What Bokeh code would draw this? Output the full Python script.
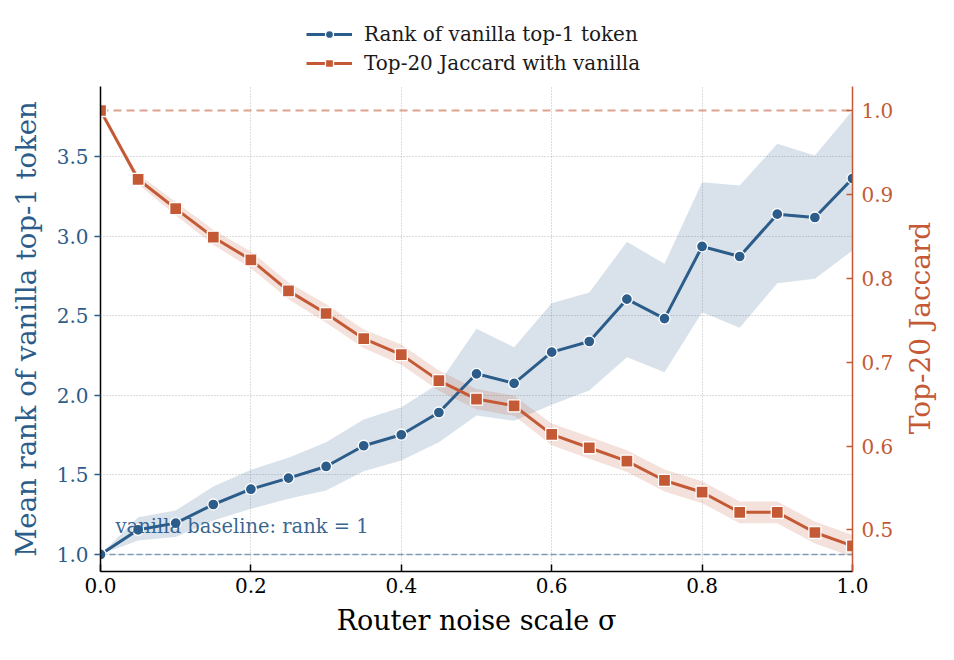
import math
from bokeh.plotting import figure
from bokeh.layouts import column, row
from bokeh.models import (Range1d, LinearAxis, Legend, LegendItem, Label, FixedTicker,
                          PrintfTickFormatter)
from bokeh.embed import file_html
from bokeh.resources import INLINE

sigma = [0.0, 0.05, 0.10, 0.15, 0.20, 0.25, 0.30, 0.35, 0.40, 0.45, 0.50,
         0.55, 0.60, 0.65, 0.70, 0.75, 0.80, 0.85, 0.90, 0.95, 1.00]
rank_mean = [1.0, 1.155, 1.197, 1.314, 1.41, 1.48, 1.553, 1.683, 1.752, 1.892, 2.135,
             2.075, 2.271, 2.338, 2.604, 2.482, 2.935, 2.872, 3.138, 3.117, 3.362]
rank_hi = [1.0, 1.234, 1.276, 1.427, 1.532, 1.607, 1.705, 1.848, 1.925, 2.074, 2.418,
           2.302, 2.579, 2.646, 2.964, 2.826, 3.339, 3.318, 3.58, 3.506, 3.789]
rank_lo = [1.0, 1.088, 1.109, 1.214, 1.287, 1.35, 1.402, 1.523, 1.59, 1.705, 1.873,
           1.84, 1.94, 2.03, 2.239, 2.145, 2.522, 2.424, 2.704, 2.732, 2.91]
jac_mean = [1.0, 0.918, 0.883, 0.849, 0.822, 0.785, 0.758, 0.728, 0.709, 0.678, 0.656,
            0.648, 0.614, 0.598, 0.582, 0.559, 0.545, 0.521, 0.521, 0.497, 0.481]
jac_hi = [1.0, 0.924, 0.891, 0.858, 0.832, 0.795, 0.769, 0.739, 0.721, 0.690, 0.668,
          0.660, 0.627, 0.611, 0.595, 0.572, 0.558, 0.534, 0.534, 0.510, 0.494]
jac_lo = [1.0, 0.912, 0.875, 0.840, 0.812, 0.775, 0.747, 0.717, 0.697, 0.666, 0.644,
          0.636, 0.601, 0.585, 0.569, 0.546, 0.532, 0.508, 0.508, 0.484, 0.468]
x_ticks = [0.0, 0.2, 0.4, 0.6, 0.8, 1.0]
rank_ticks = [1.0, 1.5, 2.0, 2.5, 3.0, 3.5]
jac_ticks = [0.5, 0.6, 0.7, 0.8, 0.9, 1.0]
series_names = ["Rank of vanilla top-1 token", "Top-20 Jaccard with vanilla"]

BLUE = "#2c5c8a"
ORANGE = "#c45a35"
FONT = "DejaVu Serif"
TICK_FS = "20px"

# ---------------- main plot ----------------
p = figure(width=902, height=554, output_backend="svg", toolbar_location=None,
           x_range=Range1d(0.0, 1.0), y_range=Range1d(0.893, 3.94),
           min_border_left=100, min_border_right=50, min_border_top=0, min_border_bottom=69)
p.extra_y_ranges = {"jac": Range1d(0.4505, 1.0286)}
p.outline_line_color = None
p.background_fill_color = "white"

p.xgrid.ticker = FixedTicker(ticks=x_ticks)
p.ygrid.ticker = FixedTicker(ticks=rank_ticks)
for g in (p.xgrid, p.ygrid):
    g.grid_line_color = "#b8b8b8"
    g.grid_line_dash = "1 2"
    g.grid_line_width = 1

p.varea(x=sigma, y1=rank_lo, y2=rank_hi, fill_color=BLUE, fill_alpha=0.18)
p.varea(x=sigma, y1=jac_lo, y2=jac_hi, fill_color=ORANGE, fill_alpha=0.18, y_range_name="jac")

p.line(x=[0.0, 1.0], y=[1.0, 1.0], line_color="#7d9aba", line_width=1.6, line_dash="6 3")
p.line(x=[0.0, 1.0], y=[1.0, 1.0], line_color="#dca48e", line_width=2.2, line_dash="8 5",
       y_range_name="jac")

lab = Label(x=0.02, y=1.176, text="vanilla baseline: rank = 1", text_color=BLUE,
            text_font=FONT, text_font_size="19.5px", text_baseline="middle", text_alpha=0.95)
p.add_layout(lab)

p.line(x=sigma, y=rank_mean, line_color=BLUE, line_width=3)
p.scatter(x=sigma, y=rank_mean, marker="circle", size=11, fill_color=BLUE,
          line_color="white", line_width=1.3)
p.line(x=sigma, y=jac_mean, line_color=ORANGE, line_width=3, y_range_name="jac")
p.scatter(x=sigma, y=jac_mean, marker="square", size=12, fill_color=ORANGE,
          line_color="white", line_width=1.3, y_range_name="jac")

xa = p.xaxis[0]
xa.ticker = FixedTicker(ticks=x_ticks)
xa.formatter = PrintfTickFormatter(format="%.1f")
xa.axis_label = "Router noise scale σ"
xa.axis_label_text_font = FONT
xa.axis_label_text_font_style = "normal"
xa.axis_label_text_font_size = "27px"
xa.axis_label_text_color = "black"
xa.major_label_text_font = FONT
xa.major_label_text_font_size = TICK_FS
xa.major_label_text_color = "black"
xa.major_label_standoff = 6
xa.axis_line_color = "black"
xa.axis_line_width = 1.5
xa.major_tick_in = 7
xa.major_tick_out = 0
xa.major_tick_line_color = "black"
xa.major_tick_line_width = 1.5
xa.minor_tick_line_color = None
xa.axis_label_standoff = 9

ya = p.yaxis[0]
ya.ticker = FixedTicker(ticks=rank_ticks)
ya.formatter = PrintfTickFormatter(format="%.1f")
ya.axis_label = "Mean rank of vanilla top-1 token"
ya.axis_label_text_font = FONT
ya.axis_label_text_font_style = "normal"
ya.axis_label_text_font_size = "27.5px"
ya.axis_label_text_color = BLUE
ya.major_label_text_font = FONT
ya.major_label_text_font_size = TICK_FS
ya.major_label_text_color = BLUE
ya.major_label_standoff = 6
ya.axis_line_color = "black"
ya.axis_line_width = 1.5
ya.major_tick_in = 0
ya.major_tick_out = 6
ya.major_tick_line_color = BLUE
ya.major_tick_line_width = 1.5
ya.minor_tick_line_color = None
ya.axis_label_standoff = 12

ra = LinearAxis(y_range_name="jac", ticker=FixedTicker(ticks=jac_ticks),
                formatter=PrintfTickFormatter(format="%.1f"))
ra.major_label_text_font = FONT
ra.major_label_text_font_size = TICK_FS
ra.major_label_text_color = ORANGE
ra.major_label_standoff = 9
ra.axis_line_color = ORANGE
ra.axis_line_width = 1.5
ra.major_tick_in = 6
ra.major_tick_out = 0
ra.major_tick_line_color = ORANGE
ra.major_tick_line_width = 1.5
ra.minor_tick_line_color = None
p.add_layout(ra, "right")

# ---------------- right-axis title (reads bottom to top) ----------------
rt = figure(width=44, height=554, output_backend="svg", toolbar_location=None,
            x_range=Range1d(0, 1), y_range=Range1d(0, 1),
            min_border=0, x_axis_type=None, y_axis_type=None)
rt.outline_line_color = None
rt.xgrid.visible = False
rt.ygrid.visible = False
rt.add_layout(Label(x=18, y=243.5, x_units="screen", y_units="screen",
                    text="Top-20 Jaccard", angle=math.pi / 2, text_align="center",
                    text_baseline="middle", text_font=FONT, text_font_size="28px",
                    text_color=ORANGE))

# ---------------- legend strip ----------------
lg = figure(width=946, height=86, output_backend="svg", toolbar_location=None,
            x_range=Range1d(10, 11), y_range=Range1d(10, 11),
            min_border=0, x_axis_type=None, y_axis_type=None)
lg.outline_line_color = None
lg.xgrid.visible = False
lg.ygrid.visible = False
l1 = lg.line(x=sigma[:2], y=rank_mean[:2], line_color=BLUE, line_width=3)
m1 = lg.scatter(x=sigma[:1], y=rank_mean[:1], marker="circle", size=11, fill_color=BLUE,
                line_color="white", line_width=1.3)
l2 = lg.line(x=sigma[:2], y=jac_mean[:2], line_color=ORANGE, line_width=3)
m2 = lg.scatter(x=sigma[:1], y=jac_mean[:1], marker="square", size=12, fill_color=ORANGE,
                line_color="white", line_width=1.3)
legend = Legend(items=[
    LegendItem(label=series_names[0], renderers=[l1, m1]),
    LegendItem(label=series_names[1], renderers=[l2, m2]),
], location=(306, 11), orientation="vertical")
legend.label_text_font = FONT
legend.label_text_font_size = "20px"
legend.label_text_color = "#1a1a1a"
legend.label_standoff = 12
legend.border_line_color = None
legend.background_fill_alpha = 0
legend.glyph_width = 46
legend.spacing = 5
legend.padding = 6
legend.margin = 0
lg.add_layout(legend, "center")

layout = column(lg, row(p, rt))
open("out.html", "w").write(file_html(layout, INLINE))
